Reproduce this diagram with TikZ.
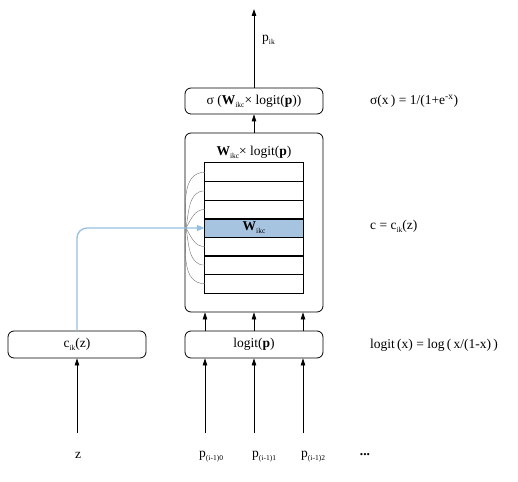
\documentclass[tikz,border=0pt]{standalone}
\usepackage{fontspec}
\setmainfont{Liberation Serif}
\usetikzlibrary{arrows.meta}
\definecolor{hlfill}{RGB}{166,196,224}
\definecolor{hlline}{RGB}{150,190,225}
\newcommand{\mysub}[1]{\raisebox{-0.5ex}{\fontsize{7.5}{7.5}\selectfont #1}}
\begin{document}
\begin{tikzpicture}[x=1pt,y=-1pt,
  every node/.style={font=\fontsize{13.5}{15}\selectfont, inner sep=0pt},
  box/.style={draw, rounded corners=6pt, line width=0.8pt, minimum width=138pt},
  row/.style={minimum width=98pt, minimum height=18.57pt},
  arr/.style={-{Triangle[length=7pt,width=4.5pt]}, line width=0.8pt},
  bluearr/.style={-{Triangle[length=8pt,width=6pt]}, line width=1.3pt, draw=hlline, rounded corners=10pt},
  fan/.style={draw=black!55, line width=0.4pt},
  thick sep/.style={line width=1.3pt},
  thin sep/.style={line width=0.7pt}]
\useasboundingbox (0,0) rectangle (518,481);

% boxes
\node[box, minimum height=26pt] (sig) at (254,101) {σ (\textbf{W}\mysub{ikc}× logit(\textbf{p}))};
\node[box, minimum height=179pt] (big) at (254,222.5) {};
\node (title) at (254,152) {\textbf{W}\mysub{ikc}× logit(\textbf{p})};
\node[box, minimum height=27pt] (cb) at (77,344.5) {c\mysub{ik}(z)};
\node[box, minimum height=27pt] (lg) at (254,344.5) {logit(\textbf{p})};

% table rows
\foreach \i in {1,...,7} {
  \node[row] (r\i) at (254,{172.3+(\i-1)*18.57}) {};
}
\node[row, fill=hlfill] (r4) at (254,{172.3+3*18.57}) {\textbf{W}\mysub{ikc}};
\draw[thick sep] (r1.north west) rectangle (r7.south east);
\draw[thick sep] (r1.south west) -- (r1.south east);
\draw[thin sep] (r2.south west) -- (r2.south east);
\draw[thick sep] (r3.south west) -- (r3.south east);
\draw[thick sep] (r4.south west) -- (r4.south east);
\draw[thick sep] (r5.south west) -- (r5.south east);
\draw[thick sep] (r6.south west) -- (r6.south east);

% fan curves
\coordinate (F) at (186,228);
\draw[fan] (F) to[out=92,in=180,looseness=1] (r1.west);
\draw[fan] (F) to[out=80,in=180,looseness=1] (r2.west);
\draw[fan] (F) to[out=60,in=180,looseness=1] (r3.west);
\draw[fan] (F) to[out=-60,in=180,looseness=1] (r5.west);
\draw[fan] (F) to[out=-80,in=180,looseness=1] (r6.west);
\draw[fan] (F) to[out=-92,in=180,looseness=1] (r7.west);

% blue arrow
\draw[bluearr] (cb.north) |- (r4.west);

% top arrows
\coordinate (top) at (254,9);
\draw[arr] (sig.north) -- (top);
\node[anchor=west] (pik) at (262,40) {p\mysub{ik}};
\draw[arr] (big.north) -- (sig.south);

% logit to big box
\foreach \x in {205,254,303} {
  \draw[arr] (lg.north -| \x,0) -- (big.south -| \x,0);
}

% inputs
\coordinate (iz) at (77,433);
\coordinate (i0) at (205,433);
\coordinate (i1) at (254,433);
\coordinate (i2) at (303,433);
\draw[arr] (iz) -- (cb.south);
\draw[arr] (i0) -- (i0 |- lg.south);
\draw[arr] (i1) -- (i1 |- lg.south);
\draw[arr] (i2) -- (i2 |- lg.south);
\node (z) at (78,455) {z};
\node[anchor=west] (p0) at (199,457) {p\mysub{(i-1)0}};
\node[anchor=west] (p1) at (252,457) {p\mysub{(i-1)1}};
\node[anchor=west] (p2) at (301,457) {p\mysub{(i-1)2}};
\node (dots) at (365,455) {\textbf{...}};

% right labels
\node[anchor=west] (l1) at (370,101) {σ(x\,) = 1/(1+e\textsuperscript{-x})};
\node[anchor=west] (l2) at (370,226) {c = c\mysub{ik}(z)};
\node[anchor=west] (l3) at (370,345) {logit\,(x) = log\,(\,x/(1-x)\,)};
\end{tikzpicture}
\end{document}
